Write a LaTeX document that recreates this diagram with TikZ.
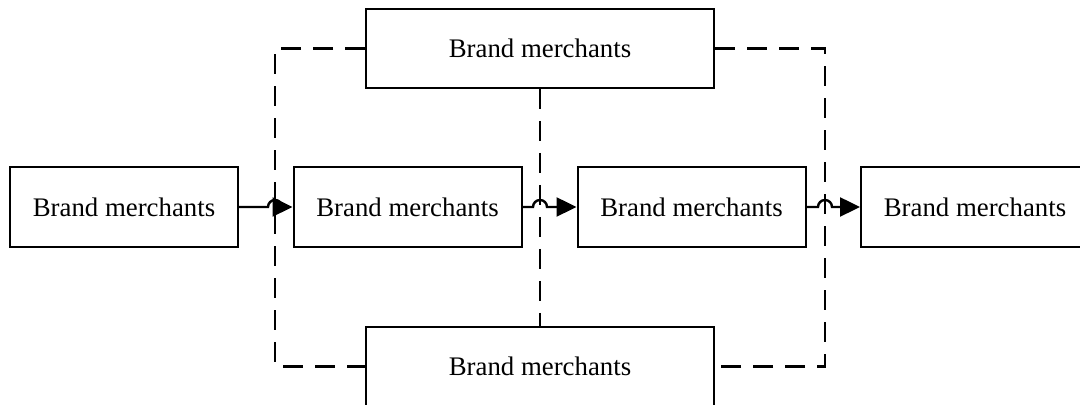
\documentclass[tikz,border=0pt]{standalone}
\usepackage{fontspec}
\setmainfont{Liberation Serif}
\usetikzlibrary{arrows.meta,calc}
\begin{document}
\begin{tikzpicture}[x=0.5pt,y=0.5pt,
  box/.style={draw,line width=1pt,minimum width=114pt,minimum height=40pt,inner sep=0pt,
    font=\fontsize{13.4}{16}\selectfont},
  wbox/.style={box,minimum width=174pt,minimum height=39.5pt},
  dashline/.style={line width=1.3pt,dash pattern=on 10pt off 6pt},
  arr/.style={line width=1.2pt,-{Triangle[length=10pt,width=9.5pt]}}]
\useasboundingbox (0,0) rectangle (1080,405);
\node[box] (b1) at (124,198) {Brand merchants};
\node[box] (b2) at (407.5,198) {Brand merchants};
\node[box] (b3) at (691.5,198) {Brand merchants};
\node[box] (b4) at (975,198) {Brand merchants};
\node[wbox] (top) at (540,356.5) {Brand merchants};
\node[wbox] (bot) at (540,38.5) {Brand merchants};
\coordinate (jl) at (275,198);
\coordinate (jr) at (825,198);
% dashed frame
\draw[dashline] (top.west) -| (jl |- bot.west) -- (bot.west);
\draw[dashline] (top.east) -| (jr |- bot.east) -- (bot.east);
\draw[dashline] (top.south) -- (bot.north);
% arrows with hops
\draw[arr] (b1.east) -- ($(b1.east -| jl)+(-3.5pt,0)$) arc[start angle=180,end angle=0,radius=3.5pt] -- (b2.west);
\draw[arr] (b2.east) -- ($(b2.east -| top.south)+(-3.5pt,0)$) arc[start angle=180,end angle=0,radius=3.5pt] -- (b3.west);
\draw[arr] (b3.east) -- ($(b3.east -| jr)+(-3.5pt,0)$) arc[start angle=180,end angle=0,radius=3.5pt] -- (b4.west);
\end{tikzpicture}
\end{document}
